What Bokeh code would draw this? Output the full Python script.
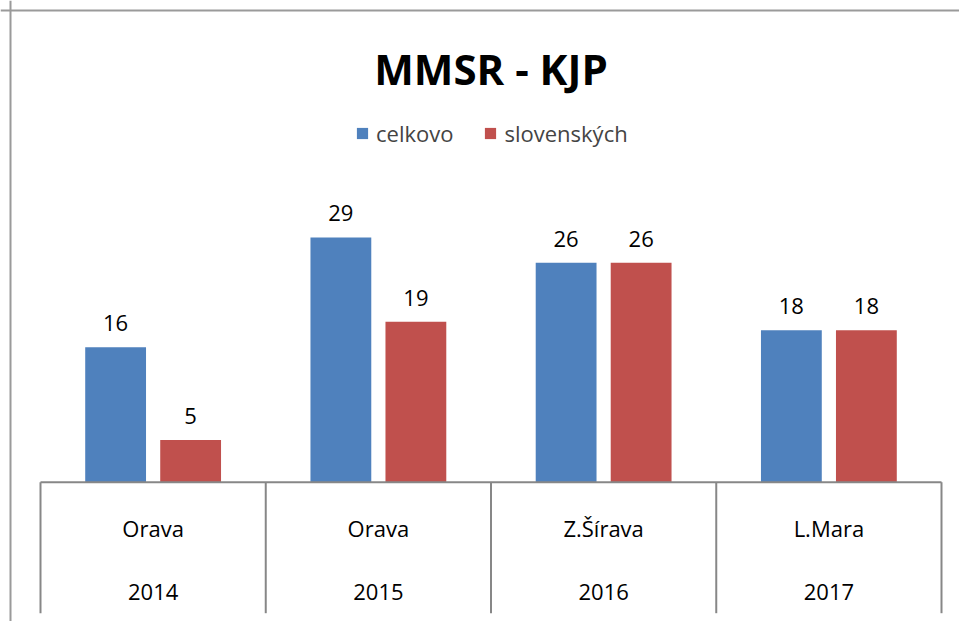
from bokeh.plotting import figure
from bokeh.models import Range1d, Legend, LegendItem, Label, ColumnDataSource, Span
from bokeh.core.properties import value
from bokeh.embed import file_html
from bokeh.resources import INLINE

# ---------------- data ----------------
chart_title = "MMSR - KJP"
places = ["Orava", "Orava", "Z.Šírava", "L.Mara"]
years = ["2014", "2015", "2016", "2017"]
celkovo = [16, 29, 26, 18]
slovenskych = [5, 19, 26, 18]
series_names = ["celkovo", "slovenských"]

# ---------------- style / layout ----------------
colors = ["#4F81BD", "#C0504D"]
FONT = "Open Sans"
FIG_W, FIG_H = 959, 621
AXIS_X0 = 40.0       # page x of category axis start
CAT_PX = 225.25      # pixels per category
BASE_Y = 481.7       # page y of the value 0
UNIT_PX = 8.44       # pixels per value unit
BAR_W = 0.27         # in category units
BAR_OFF = 0.1665     # dodge, in category units
AXIS_DEPTH_PX = 131  # separator lines below axis
GRAY = "#878787"
BORDER_GRAY = "#9a9a9a"
BORDER_POS = 10      # page px of chart border (left and top)

x_range = Range1d((0 - AXIS_X0) / CAT_PX, (FIG_W - AXIS_X0) / CAT_PX)
y_range = Range1d(-(FIG_H - BASE_Y) / UNIT_PX, BASE_Y / UNIT_PX)

p = figure(width=FIG_W, height=FIG_H, x_range=x_range, y_range=y_range,
           output_backend="svg", toolbar_location=None,
           x_axis_location=None, y_axis_location=None,
           min_border_left=0, min_border_top=0,
           min_border_right=0, min_border_bottom=0)
p.border_fill_color = "white"
p.background_fill_color = "white"
p.outline_line_color = None
p.xgrid.visible = False
p.ygrid.visible = False

# chart border (left and top only visible in the crop)
p.add_layout(Span(location=(BORDER_POS - AXIS_X0) / CAT_PX, dimension="height",
                  line_color=BORDER_GRAY, line_width=2))
p.add_layout(Span(location=(BASE_Y - BORDER_POS) / UNIT_PX, dimension="width",
                  line_color=BORDER_GRAY, line_width=2))

n = len(places)
centers = [i + 0.5 for i in range(n)]

src = ColumnDataSource(dict(
    xb=[c - BAR_OFF for c in centers],
    xr=[c + BAR_OFF for c in centers],
    celkovo=celkovo,
    slovenskych=slovenskych,
    lb=[str(v) for v in celkovo],
    lr=[str(v) for v in slovenskych],
    xc=centers,
    zero=[0] * n,
    places=places,
    years=years,
))

rb = p.vbar(x="xb", top="celkovo", bottom=0, width=BAR_W, source=src,
            fill_color=colors[0], line_color=None)
rr = p.vbar(x="xr", top="slovenskych", bottom=0, width=BAR_W, source=src,
            fill_color=colors[1], line_color=None)

# data labels
for xcol, ycol, tcol in [("xb", "celkovo", "lb"), ("xr", "slovenskych", "lr")]:
    p.text(x=xcol, y=ycol, text=tcol, source=src, text_font=value(FONT),
           text_font_size="22px", text_align="center", text_baseline="alphabetic",
           y_offset=-24, text_color="black")

# category axis: baseline and separators
bounds = list(range(n + 1))
depth = -AXIS_DEPTH_PX / UNIT_PX
p.segment(x0=bounds, y0=[0] * len(bounds), x1=bounds, y1=[depth] * len(bounds),
          line_color=GRAY, line_width=2)
p.segment(x0=[0], y0=[0], x1=[n], y1=[0], line_color=GRAY, line_width=2)

# category labels
p.text(x="xc", y="zero", text="places", source=src, text_font=value(FONT),
       text_font_size="22px", text_align="center", text_baseline="alphabetic",
       y_offset=46, text_color="black")
p.text(x="xc", y="zero", text="years", source=src, text_font=value(FONT),
       text_font_size="22px", text_align="center", text_baseline="alphabetic",
       y_offset=110, text_color="black")

# title
title_y = (BASE_Y - 67.5) / UNIT_PX
p.add_layout(Label(x=n / 2, y=title_y, text=chart_title, text_align="center",
                   text_baseline="alphabetic", text_font=FONT, text_font_size="42px",
                   text_font_style="bold", text_color="black"))

# legend
legend = Legend(items=[LegendItem(label=series_names[0], renderers=[rb]),
                       LegendItem(label=series_names[1], renderers=[rr])],
                orientation="horizontal", location=(355, 473),
                border_line_color=None, background_fill_alpha=0,
                glyph_width=14, glyph_height=14, label_standoff=7, spacing=30,
                padding=0, margin=0, label_text_font=FONT,
                label_text_font_size="22px", label_height=14)
p.add_layout(legend)

open("out.html", "w").write(file_html(p, INLINE))
